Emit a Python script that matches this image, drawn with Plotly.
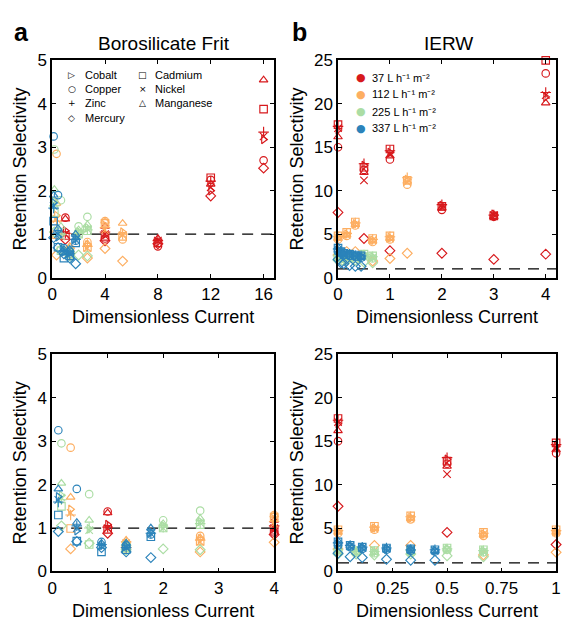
import plotly.graph_objects as go

# ---------------- data ----------------
METALS = ["Cobalt", "Copper", "Zinc", "Mercury", "Cadmium", "Nickel", "Manganese"]
FLOW_LABELS = ["37 L h⁻¹ m⁻²", "112 L h⁻¹ m⁻²", "225 L h⁻¹ m⁻²", "337 L h⁻¹ m⁻²"]

# Borosilicate frit
FRIT_X_37 = [1, 4, 8, 12, 16]
FRIT_37 = dict(Cobalt=[1.08, 1.00, 0.82, 2.00, 3.18], Copper=[1.38, 0.90, 0.72, 2.25, 2.70],
               Zinc=[1.02, 1.05, 0.85, 2.22, 3.35], Mercury=[0.88, 0.85, 0.78, 1.88, 2.52],
               Cadmium=[0.97, 0.95, 0.80, 2.30, 3.88], Nickel=[1.00, 1.00, 0.85, 2.08, 3.25],
               Manganese=[1.35, 1.18, 0.90, 2.15, 4.55])
FRIT_X_112 = [0.333, 1.333, 2.667, 4, 5.333]
FRIT_112 = dict(Cobalt=[1.43, 0.65, 0.75, 1.20, 1.05], Copper=[2.85, 0.62, 0.82, 1.30, 0.88],
                Zinc=[1.30, 0.68, 0.72, 1.15, 1.00], Mercury=[0.52, 0.55, 0.45, 0.67, 0.38],
                Cadmium=[0.99, 0.60, 0.70, 1.25, 0.95], Nickel=[1.35, 0.65, 0.68, 1.10, 0.98],
                Manganese=[1.71, 0.72, 0.78, 1.30, 1.25])
FRIT_X_225 = [0.167, 0.667, 1.333, 2, 2.667]
FRIT_225 = dict(Cobalt=[1.75, 0.98, 0.60, 1.05, 1.15], Copper=[2.95, 1.78, 0.55, 1.18, 1.40],
                Zinc=[1.65, 1.00, 0.60, 1.02, 1.10], Mercury=[1.05, 0.65, 0.50, 0.52, 0.50],
                Cadmium=[1.50, 0.62, 0.55, 1.00, 1.08], Nickel=[1.70, 0.95, 0.60, 1.00, 1.12],
                Manganese=[2.03, 1.18, 0.65, 1.10, 1.22])
FRIT_X_337 = [0.111, 0.444, 0.889, 1.333, 1.778]
FRIT_337 = dict(Cobalt=[1.72, 0.94, 0.60, 0.58, 0.90], Copper=[3.25, 1.90, 0.68, 0.60, 0.85],
                Zinc=[1.60, 1.05, 0.62, 0.55, 0.88], Mercury=[0.92, 0.69, 0.55, 0.45, 0.32],
                Cadmium=[1.30, 0.70, 0.45, 0.50, 0.80], Nickel=[1.65, 1.00, 0.58, 0.55, 0.87],
                Manganese=[1.90, 1.13, 0.65, 0.65, 1.00])

# IERW
IERW_X_37 = [0, 0.5, 1, 2, 3, 4]
IERW_37 = dict(Cobalt=[17.0, 12.9, 14.4, 8.3, 7.3, 20.8], Copper=[15.0, 12.4, 13.6, 7.8, 7.0, 23.5],
               Zinc=[17.4, 13.1, 14.6, 8.4, 7.2, 21.3], Mercury=[7.5, 4.5, 3.1, 2.8, 2.1, 2.7],
               Cadmium=[17.6, 12.7, 14.8, 8.2, 7.1, 25.0], Nickel=[17.2, 11.2, 14.2, 8.1, 7.2, 21.0],
               Manganese=[16.2, 12.1, 14.0, 8.0, 7.0, 20.1])
IERW_X_112 = [0, 0.167, 0.333, 0.667, 1, 1.333]
IERW_112 = dict(Cobalt=[4.6, 5.0, 6.2, 4.3, 4.6, 11.3], Copper=[4.4, 4.8, 6.0, 4.1, 4.4, 10.7],
                Zinc=[4.7, 5.1, 6.3, 4.4, 4.7, 11.5], Mercury=[2.6, 3.0, 3.0, 1.9, 2.2, 2.8],
                Cadmium=[4.8, 5.2, 6.4, 4.5, 4.8, 11.2], Nickel=[4.6, 4.9, 6.1, 4.3, 4.5, 11.0],
                Manganese=[4.5, 4.9, 6.1, 4.2, 4.5, 11.1])
IERW_X_225 = [0, 0.0833, 0.1667, 0.3333, 0.5, 0.6667]
IERW_225 = dict(Cobalt=[2.4, 2.3, 2.3, 2.4, 2.6, 2.4], Copper=[2.3, 2.2, 2.1, 2.2, 2.5, 2.2],
                Zinc=[2.5, 2.3, 2.3, 2.4, 2.6, 2.4], Mercury=[2.0, 2.0, 1.9, 2.0, 1.8, 1.7],
                Cadmium=[2.5, 2.4, 2.4, 2.4, 2.7, 2.5], Nickel=[2.3, 2.2, 2.2, 2.3, 2.5, 2.3],
                Manganese=[2.4, 2.2, 2.2, 2.3, 2.6, 2.3])
IERW_X_337 = [0, 0.0556, 0.1111, 0.2222, 0.3333, 0.4444]
IERW_337 = dict(Cobalt=[3.2, 2.9, 2.7, 2.6, 2.5, 2.4], Copper=[3.0, 2.8, 2.6, 2.5, 2.4, 2.3],
                Zinc=[3.3, 3.0, 2.8, 2.7, 2.5, 2.5], Mercury=[2.1, 1.7, 1.6, 1.4, 1.3, 1.3],
                Cadmium=[3.4, 3.0, 2.8, 2.7, 2.6, 2.5], Nickel=[3.1, 2.9, 2.7, 2.6, 2.5, 2.4],
                Manganese=[3.5, 3.0, 2.8, 2.7, 2.6, 2.4])

# ---------------- style ----------------
W, H = 567, 629
FONT = "Liberation Sans, Arial, sans-serif"
COLORS = ["#d7191c", "#fdae61", "#abdda4", "#2b83ba"]
SYMBOLS = dict(Cobalt="triangle-right-open", Copper="circle-open", Zinc="cross-thin-open",
               Mercury="diamond-open", Cadmium="square-open", Nickel="x-thin-open",
               Manganese="triangle-up-open")
LEGEND_GLYPHS = dict(Cobalt="▷", Copper="○", Zinc="+", Mercury="◇",
                     Cadmium="□", Nickel="×", Manganese="△")


def px_x(p):
    return p / W


def px_y(p):
    return 1 - p / H


fig = go.Figure()

frit_sets = [(FRIT_X_37, FRIT_37), (FRIT_X_112, FRIT_112), (FRIT_X_225, FRIT_225), (FRIT_X_337, FRIT_337)]
ierw_sets = [(IERW_X_37, IERW_37), (IERW_X_112, IERW_112), (IERW_X_225, IERW_225), (IERW_X_337, IERW_337)]

for sets, axes in [(frit_sets, [("x", "y"), ("x3", "y3")]), (ierw_sets, [("x2", "y2"), ("x4", "y4")])]:
    for xa, ya in axes:
        for (xs, vals), col, lab in zip(sets, COLORS, FLOW_LABELS):
            for m in METALS:
                fig.add_trace(go.Scatter(
                    x=xs, y=vals[m], mode="markers", xaxis=xa, yaxis=ya,
                    name=f"{m}, {lab}", showlegend=False, cliponaxis=False,
                    marker=dict(symbol=SYMBOLS[m], size=7.5, color=col,
                                line=dict(width=1.15, color=col))))

axis_common = dict(showline=True, linecolor="black", linewidth=1.5, mirror="ticks",
                   ticks="inside", ticklen=4, tickwidth=1.2, tickcolor="black",
                   showgrid=False, zeroline=False,
                   tickfont=dict(size=17, family=FONT, color="black"))
xt = dict(text="Dimensionless Current", font=dict(size=18, family=FONT, color="black"), standoff=8)
yt = dict(text="Retention Selectivity", font=dict(size=18, family=FONT, color="black"), standoff=6)

LX = [px_x(48), px_x(274)]
RX = [px_x(339), px_x(561)]
TY = [px_y(277), px_y(53)]
BY = [px_y(580), px_y(356)]

fig.update_layout(
    width=W, height=H, margin=dict(l=0, r=0, t=0, b=0),
    paper_bgcolor="white", plot_bgcolor="white",
    font=dict(family=FONT, color="black"),
    showlegend=False,
    xaxis=dict(axis_common, domain=LX, anchor="y", range=[0, 16.8], tickvals=[0, 4, 8, 12, 16], title=xt),
    yaxis=dict(axis_common, domain=TY, anchor="x", range=[0, 5], dtick=1, title=yt),
    xaxis2=dict(axis_common, domain=RX, anchor="y2", range=[0, 4.2], tickvals=[0, 1, 2, 3, 4], title=xt),
    yaxis2=dict(axis_common, domain=TY, anchor="x2", range=[0, 25], dtick=5, title=yt),
    xaxis3=dict(axis_common, domain=LX, anchor="y3", range=[0, 4], tickvals=[0, 1, 2, 3, 4], title=xt),
    yaxis3=dict(axis_common, domain=BY, anchor="x3", range=[0, 5], dtick=1, title=yt),
    xaxis4=dict(axis_common, domain=RX, anchor="y4", range=[0, 1],
                tickvals=[0, 0.25, 0.5, 0.75, 1], ticktext=["0", "0.25", "0.5", "0.75", "1"], title=xt),
    yaxis4=dict(axis_common, domain=BY, anchor="x4", range=[0, 25], dtick=5, title=yt),
)

# reference lines at selectivity = 1
for xa, ya in [("x", "y"), ("x2", "y2"), ("x3", "y3"), ("x4", "y4")]:
    fig.add_shape(type="line", xref=f"{xa} domain", yref=ya, x0=0, x1=1, y0=1, y1=1,
                  line=dict(color="black", width=1.3, dash="11px,8px"), layer="below")

ann = []
# panel titles and letters
ann.append(dict(text="Borosilicate Frit", x=px_x(162), y=px_y(36), font=dict(size=19)))
ann.append(dict(text="IERW", x=px_x(451), y=px_y(36), font=dict(size=19)))
ann.append(dict(text="<b>a</b>", x=px_x(17), y=px_y(24), font=dict(size=25)))
ann.append(dict(text="<b>b</b>", x=px_x(300), y=px_y(24), font=dict(size=25)))

# metal legend (two columns)
col1 = ["Cobalt", "Copper", "Zinc", "Mercury"]
col2 = ["Cadmium", "Nickel", "Manganese"]
rows = [68, 83, 97, 112]
for names, sx, tx in [(col1, 68, 79), (col2, 140, 151)]:
    for name, ry in zip(names, rows):
        ann.append(dict(text=LEGEND_GLYPHS[name], x=px_x(sx), y=px_y(ry), font=dict(size=9, family="DejaVu Sans")))
        ann.append(dict(text=name, x=px_x(tx), y=px_y(ry), xanchor="left", font=dict(size=11)))

# flow legend
for lab, col, ry in zip(FLOW_LABELS, COLORS, [71, 88, 106, 123]):
    ann.append(dict(text="●", x=px_x(362), y=px_y(ry), font=dict(size=11, color=col, family="DejaVu Sans")))
    ann.append(dict(text=lab, x=px_x(372), y=px_y(ry), xanchor="left", font=dict(size=11)))

for a in ann:
    a.setdefault("xanchor", "center")
    a["yanchor"] = "middle"
    a["xref"] = "paper"
    a["yref"] = "paper"
    a["showarrow"] = False
    f = a["font"]
    f.setdefault("family", FONT)
    f.setdefault("color", "black")
fig.update_layout(annotations=ann)

fig.write_html("out.html", config={"displayModeBar": False})

# remove default page margin so the figure sits at the window origin
with open("out.html", "r", encoding="utf-8") as fh:
    html = fh.read()
html = html.replace("<body>", '<body style="margin:0;overflow:hidden">', 1)
with open("out.html", "w", encoding="utf-8") as fh:
    fh.write(html)
